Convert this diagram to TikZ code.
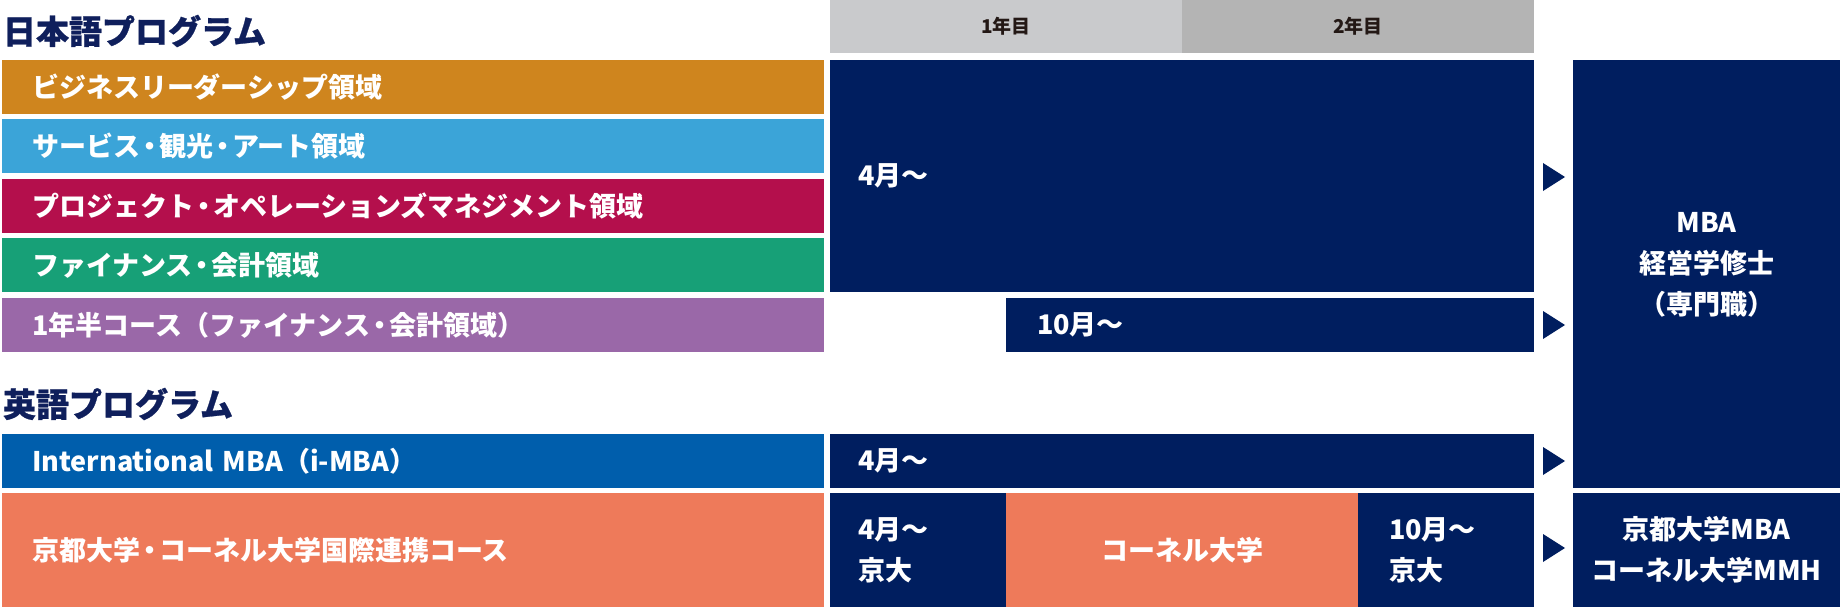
\documentclass[tikz,border=0pt]{standalone}
\usepackage{fontspec}
\setmainfont{Noto Sans CJK JP}
\newfontfamily\ttlfont{Noto Sans CJK JP}[BoldFeatures={FakeBold=0.8}]
\newcommand\nkg{\kern-4pt・\kern-4pt}
\definecolor{navy}{HTML}{001E5F}
\definecolor{titlec}{HTML}{0F1F5C}
\definecolor{cOrange}{HTML}{CF851E}
\definecolor{cBlue}{HTML}{3BA4D8}
\definecolor{cMag}{HTML}{B40F4C}
\definecolor{cGreen}{HTML}{17A077}
\definecolor{cPurple}{HTML}{9A68A8}
\definecolor{cIBlue}{HTML}{005EAC}
\definecolor{cCoral}{HTML}{EE7A5A}
\definecolor{grayA}{HTML}{C9CACC}
\definecolor{grayB}{HTML}{B4B4B4}
\definecolor{darktext}{HTML}{231815}
\begin{document}
\begin{tikzpicture}[x=1pt,y=-1pt,
  every node/.style={inner sep=0pt, outer sep=0pt, text=white,
    font=\bfseries\fontsize{27}{41}\selectfont},
  bar/.style={fill=#1, draw=none, minimum height=54pt, text width=762pt,
    inner xsep=30pt, align=left, anchor=north west},
  blk/.style={fill=navy, draw=none, anchor=north west},
  hdr/.style={fill=#1, minimum width=352pt, minimum height=53pt, anchor=north west,
    text=darktext, font=\bfseries\fontsize{19}{22}\selectfont},
  ttl/.style={anchor=west, text=titlec, font=\ttlfont\bfseries\fontsize{33}{38}\selectfont},
  tri/.style={fill=navy, draw=none}
]
\useasboundingbox (0,0) rectangle (1840,607);
% titles
\node[ttl] (t1) at (3,31) {日本語プログラム};
\node[ttl] (t2) at (3,404) {英語プログラム};
% header
\node[hdr=grayA] (y1) at (830,0) {1年目};
\node[hdr=grayB] (y2) at (1182,0) {2年目};
% left bars
\node[bar=cOrange] (b1) at (2,60) {ビジネスリーダーシップ領域};
\node[bar=cBlue] (b2) at (2,119) {サービス\nkg 観光\nkg アート領域};
\node[bar=cMag] (b3) at (2,179) {プロジェクト\nkg オペレーションズマネジメント領域};
\node[bar=cGreen] (b4) at (2,238) {ファイナンス\nkg 会計領域};
\node[bar=cPurple] (b5) at (2,298) {1年半コース（ファイナンス\nkg 会計領域）};
\node[bar=cIBlue] (ib) at (2,434) {International MBA（i-MBA）};
\node[bar=cCoral, minimum height=114pt] (kc) at (2,493) {京都大学\nkg コーネル大学国際連携コース};
% navy period blocks
\node[blk, minimum height=232pt, text width=648pt, inner xsep=28pt, align=left] (n1) at (830,60) {4月～};
\node[blk, minimum height=54pt, text width=466pt, inner xsep=31pt, align=left] (n2) at (1006,298) {10月～};
\node[blk, minimum height=54pt, text width=648pt, inner xsep=28pt, align=left] (n3) at (830,434) {4月～};
\node[blk, minimum height=114pt, text width=120pt, inner xsep=28pt, align=left] (n4) at (830,493) {4月～\\京大};
\node[fill=cCoral, minimum width=352pt, minimum height=114pt, anchor=north west] (cu) at (1006,493) {コーネル大学};
\node[blk, minimum height=114pt, text width=114pt, inner xsep=31pt, align=left] (n5) at (1358,493) {10月～\\京大};
% result blocks
\node[blk, minimum width=267pt, minimum height=428pt] (mba) at (1573,60) {};
\node[align=center, fill=none] (mbat) at ([yshift=9pt]mba.center) {MBA\\経営学修士\\（専門職）};
\node[blk, minimum width=267pt, minimum height=114pt, align=center] (kd) at (1573,493) {京都大学MBA\\コーネル大学MMH};
% arrow triangles
\fill[tri] ([xshift=9pt,yshift=-1pt]n1.east) ++(0,-14) -- ++(22,14) -- ++(-22,14) -- cycle;
\fill[tri] ([xshift=9pt]n2.east) ++(0,-14) -- ++(22,14) -- ++(-22,14) -- cycle;
\fill[tri] ([xshift=9pt]n3.east) ++(0,-14) -- ++(22,14) -- ++(-22,14) -- cycle;
\fill[tri] ([xshift=9pt,yshift=2pt]n5.east) ++(0,-14) -- ++(22,14) -- ++(-22,14) -- cycle;
\end{tikzpicture}
\end{document}
